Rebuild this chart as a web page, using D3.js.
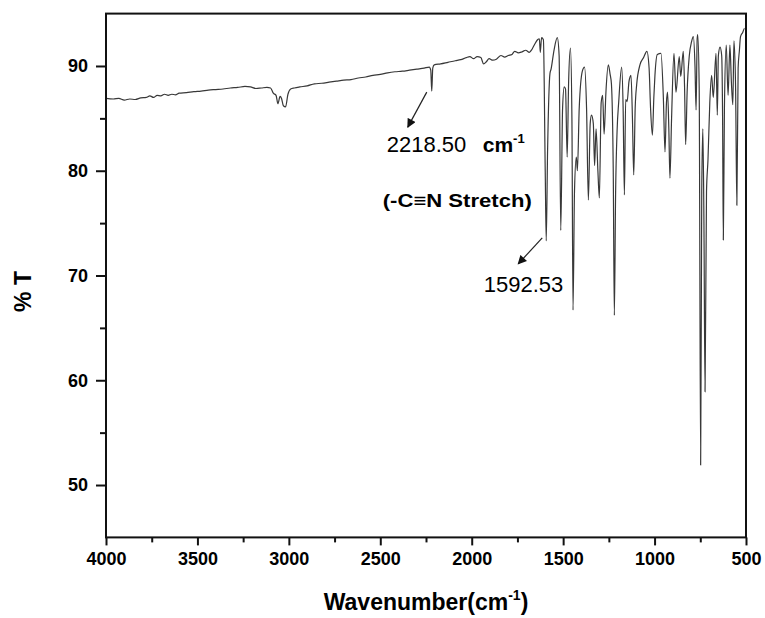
<!DOCTYPE html>
<html>
<head>
<meta charset="utf-8">
<script src="https://cdn.jsdelivr.net/npm/d3@7"></script>
<style>
  html, body { margin: 0; padding: 0; background: #fff; }
  svg text { font-family: "Liberation Sans", Arial, sans-serif; fill: #000; }
</style>
</head>
<body>
<div id="chart"></div>
<script>
// FTIR spectrum (wavenumber cm-1 -> %T)
const wavenumbers = [
  4000, 3960, 3930, 3900, 3870, 3840, 3810, 3780, 3760, 3740, 3720, 3700, 3680, 3660, 3640, 3620,
  3600, 3560, 3520, 3480, 3440, 3400, 3360, 3320, 3280, 3240, 3210, 3180, 3150, 3120, 3100,
  3085, 3070, 3060, 3048, 3040, 3030, 3018, 3005, 2990, 2970, 2940, 2900, 2860, 2820, 2780,
  2740, 2700, 2660, 2620, 2580, 2540, 2500, 2460, 2420, 2380, 2340, 2300, 2260, 2232, 2224,
  2218.5, 2213, 2205, 2170, 2130, 2090, 2060, 2030, 2010, 1990, 1970, 1950, 1935, 1920, 1905,
  1885, 1865, 1840, 1820, 1800, 1780, 1765, 1745, 1725, 1705, 1685, 1670, 1655, 1640, 1630,
  1625, 1618, 1608, 1598, 1592.5, 1585, 1572, 1566, 1550, 1532, 1522, 1513, 1503, 1494, 1487,
  1478, 1470, 1460, 1452, 1446, 1438, 1428, 1422, 1412, 1395, 1383, 1372, 1362, 1352, 1345,
  1335, 1328, 1320, 1310, 1302, 1292, 1284, 1276, 1266, 1253, 1243, 1236, 1226, 1220, 1213,
  1205, 1196, 1180, 1172, 1165, 1158, 1150, 1140, 1129, 1121, 1114, 1106, 1098, 1080, 1060,
  1042, 1030, 1022, 1012, 1004, 998, 985, 965, 952, 943, 935, 929, 922, 916, 907,
  894, 883, 865, 857, 843, 836, 830, 822, 810, 798, 788, 779, 773, 767, 764,
  756, 748, 742, 736, 730, 724, 716, 708, 698, 688, 679, 664, 657, 651, 642,
  633, 628, 624, 618, 608, 598, 588, 580, 572, 566, 557, 550, 543, 536, 530,
  518, 508, 500
];
const transmittance = [
  86.9, 86.85, 86.9, 86.75, 86.85, 86.8, 86.95, 87.0, 87.15, 87.0, 87.2, 87.15, 87.3, 87.2, 87.3, 87.25,
  87.4, 87.45, 87.55, 87.6, 87.7, 87.75, 87.8, 87.9, 87.95, 88.05, 88.0, 87.85, 87.9, 87.95, 87.9,
  87.4, 87.2, 86.4, 87.1, 86.9, 86.2, 86.1, 87.3, 87.8, 87.9, 88.0, 88.1, 88.3, 88.35, 88.45,
  88.55, 88.65, 88.7, 88.85, 88.95, 89.1, 89.2, 89.35, 89.45, 89.5, 89.6, 89.7, 89.8, 89.9, 89.6,
  87.6, 89.8, 90.1, 90.2, 90.35, 90.5, 90.6, 90.8, 90.9, 90.7, 90.9, 90.8, 90.2, 90.4, 90.7,
  90.55, 90.65, 91.0, 90.85, 91.0, 91.1, 91.4, 91.25, 91.35, 91.5, 91.3, 91.6, 92.1, 92.5, 92.6,
  91.3, 92.7, 92.5, 80.0, 73.3, 82.0, 89.3, 89.7, 91.5, 92.7, 91.0, 74.3, 86.0, 88.0, 87.8,
  81.3, 88.5, 91.7, 85.0, 66.7, 78.0, 81.3, 80.0, 86.0, 89.5, 89.9, 86.0, 77.2, 84.5, 85.3,
  84.5, 80.5, 84.0, 80.0, 77.4, 86.5, 87.2, 83.5, 87.5, 90.1, 89.2, 88.3, 80.0, 66.2, 78.0,
  83.8, 86.6, 89.9, 86.0, 77.7, 86.8, 86.6, 88.5, 89.1, 85.0, 79.6, 86.0, 88.2, 90.1, 90.8,
  91.4, 89.8, 86.0, 83.4, 87.0, 89.1, 91.1, 91.2, 87.0, 81.8, 86.5, 87.5, 84.0, 79.3, 85.0,
  91.2, 87.5, 90.9, 89.0, 91.4, 88.0, 82.5, 87.5, 91.0, 92.3, 92.8, 90.0, 85.8, 92.6, 93.0,
  88.0, 51.9, 78.0, 84.0, 75.0, 58.9, 78.0, 81.0, 86.5, 89.1, 87.0, 91.2, 85.3, 91.0, 91.8,
  91.0, 85.0, 73.4, 86.0, 92.0, 87.2, 92.0, 88.5, 86.3, 92.4, 88.0, 76.7, 89.8, 91.5,
  92.8, 93.2, 93.6
];

const xDomain = [4000, 500];
const yDomain = [45, 95];
const xTicks = [4000, 3500, 3000, 2500, 2000, 1500, 1000, 500];
const xMinorTicks = [3750, 3250, 2750, 2250, 1750, 1250, 750];
const yTicks = [50, 60, 70, 80, 90];
const yMinorTicks = [55, 65, 75, 85];

// annotated peaks
const peakWavenumbers = [2218.5, 1592.53];
const peakValues = [87.6, 73.3];
const peakLabels = ['2218.50', '1592.53'];

const width = 765;
const height = 618;
const margin = { top: 13.6, right: 19, bottom: 80.6, left: 106 };

const svg = d3.select('#chart').append('svg')
  .attr('width', width)
  .attr('height', height);

const x = d3.scaleLinear().domain(xDomain).range([margin.left, width - margin.right]);
const y = d3.scaleLinear().domain(yDomain).range([height - margin.bottom, margin.top]);

const plotBottom = height - margin.bottom;

const defs = svg.append('defs');
defs.append('marker')
  .attr('id', 'arrowHead')
  .attr('markerUnits', 'userSpaceOnUse')
  .attr('viewBox', '0 0 10 10')
  .attr('refX', 9).attr('refY', 5)
  .attr('markerWidth', 10).attr('markerHeight', 9)
  .attr('orient', 'auto')
  .append('path')
  .attr('d', 'M0,0L10,5L0,10Z')
  .attr('fill', '#111');

// spectrum
const points = wavenumbers.map((w, i) => [w, transmittance[i]]);
const line = d3.line()
  .x(d => x(d[0]))
  .y(d => y(d[1]))
  .curve(d3.curveMonotoneX);

svg.append('path')
  .datum(points)
  .attr('fill', 'none')
  .attr('stroke', '#383838')
  .attr('stroke-width', 1.2)
  .attr('stroke-linejoin', 'round')
  .attr('d', line);

// axes
function styleAxis(g) {
  g.select('.domain').remove();
  g.selectAll('line').attr('stroke', '#111').attr('stroke-width', 2);
  g.selectAll('text')
    .attr('font-size', '18px')
    .attr('font-weight', 'bold')
    .attr('fill', '#111');
}

svg.append('g')
  .attr('transform', `translate(0,${plotBottom})`)
  .call(d3.axisBottom(x).tickValues(xTicks).tickSize(8).tickPadding(7).tickFormat(d3.format('d')))
  .call(styleAxis);

svg.append('g')
  .attr('transform', `translate(0,${plotBottom})`)
  .call(d3.axisBottom(x).tickValues(xMinorTicks).tickSize(5).tickFormat(''))
  .call(styleAxis);

svg.append('g')
  .attr('transform', `translate(${margin.left},0)`)
  .call(d3.axisLeft(y).tickValues(yTicks).tickSize(10).tickPadding(8))
  .call(styleAxis);

svg.append('g')
  .attr('transform', `translate(${margin.left},0)`)
  .call(d3.axisLeft(y).tickValues(yMinorTicks).tickSize(6).tickFormat(''))
  .call(styleAxis);

// frame
svg.append('rect')
  .attr('x', x(xDomain[0]))
  .attr('y', y(yDomain[1]))
  .attr('width', x(xDomain[1]) - x(xDomain[0]))
  .attr('height', y(yDomain[0]) - y(yDomain[1]))
  .attr('fill', 'none')
  .attr('stroke', '#111')
  .attr('stroke-width', 2);

// axis titles
const xTitle = svg.append('text')
  .attr('x', (x(xDomain[0]) + x(xDomain[1])) / 2)
  .attr('y', 610)
  .attr('text-anchor', 'middle')
  .attr('font-size', '23px')
  .attr('font-weight', 'bold');
xTitle.append('tspan').text('Wavenumber(cm');
xTitle.append('tspan').attr('font-size', '14px').attr('dy', -10).text('-1');
xTitle.append('tspan').attr('dy', 10).text(')');

svg.append('text')
  .attr('transform', `translate(31,${(y(yDomain[0]) + y(yDomain[1])) / 2 + 16}) rotate(-90)`)
  .attr('text-anchor', 'middle')
  .attr('font-size', '23px')
  .attr('font-weight', 'bold')
  .text('% T');

// peak annotations
const p1 = { x: x(peakWavenumbers[0]), y: y(peakValues[0]) };
const p2 = { x: x(peakWavenumbers[1]), y: y(peakValues[1]) };

svg.append('line')
  .attr('x1', p1.x - 5).attr('y1', p1.y + 1)
  .attr('x2', p1.x - 24).attr('y2', p1.y + 36)
  .attr('stroke', '#222').attr('stroke-width', 1.2)
  .attr('marker-end', 'url(#arrowHead)');

svg.append('text')
  .attr('x', p1.x - 45).attr('y', p1.y + 61)
  .attr('font-size', '22px')
  .text(peakLabels[0]);

const unit = svg.append('text')
  .attr('x', p1.x + 51).attr('y', p1.y + 61)
  .attr('font-size', '21px')
  .attr('font-weight', 'bold');
unit.append('tspan').text('cm');
unit.append('tspan').attr('font-size', '13px').attr('dy', -9).text('-1');

svg.append('text')
  .attr('x', p1.x - 49).attr('y', p1.y + 116)
  .attr('font-family', '"Open Sans", "DejaVu Sans", sans-serif')
  .attr('font-size', '19px')
  .attr('font-weight', 'bold')
  .attr('textLength', 149)
  .attr('lengthAdjust', 'spacingAndGlyphs')
  .text('(-C\u2261N Stretch)');

svg.append('line')
  .attr('x1', p2.x - 4).attr('y1', p2.y - 3)
  .attr('x2', p2.x - 28).attr('y2', p2.y + 23)
  .attr('stroke', '#222').attr('stroke-width', 1.2)
  .attr('marker-end', 'url(#arrowHead)');

svg.append('text')
  .attr('x', p2.x + 17).attr('y', p2.y + 51)
  .attr('text-anchor', 'end')
  .attr('font-size', '22px')
  .text(peakLabels[1]);
</script>
</body>
</html>
